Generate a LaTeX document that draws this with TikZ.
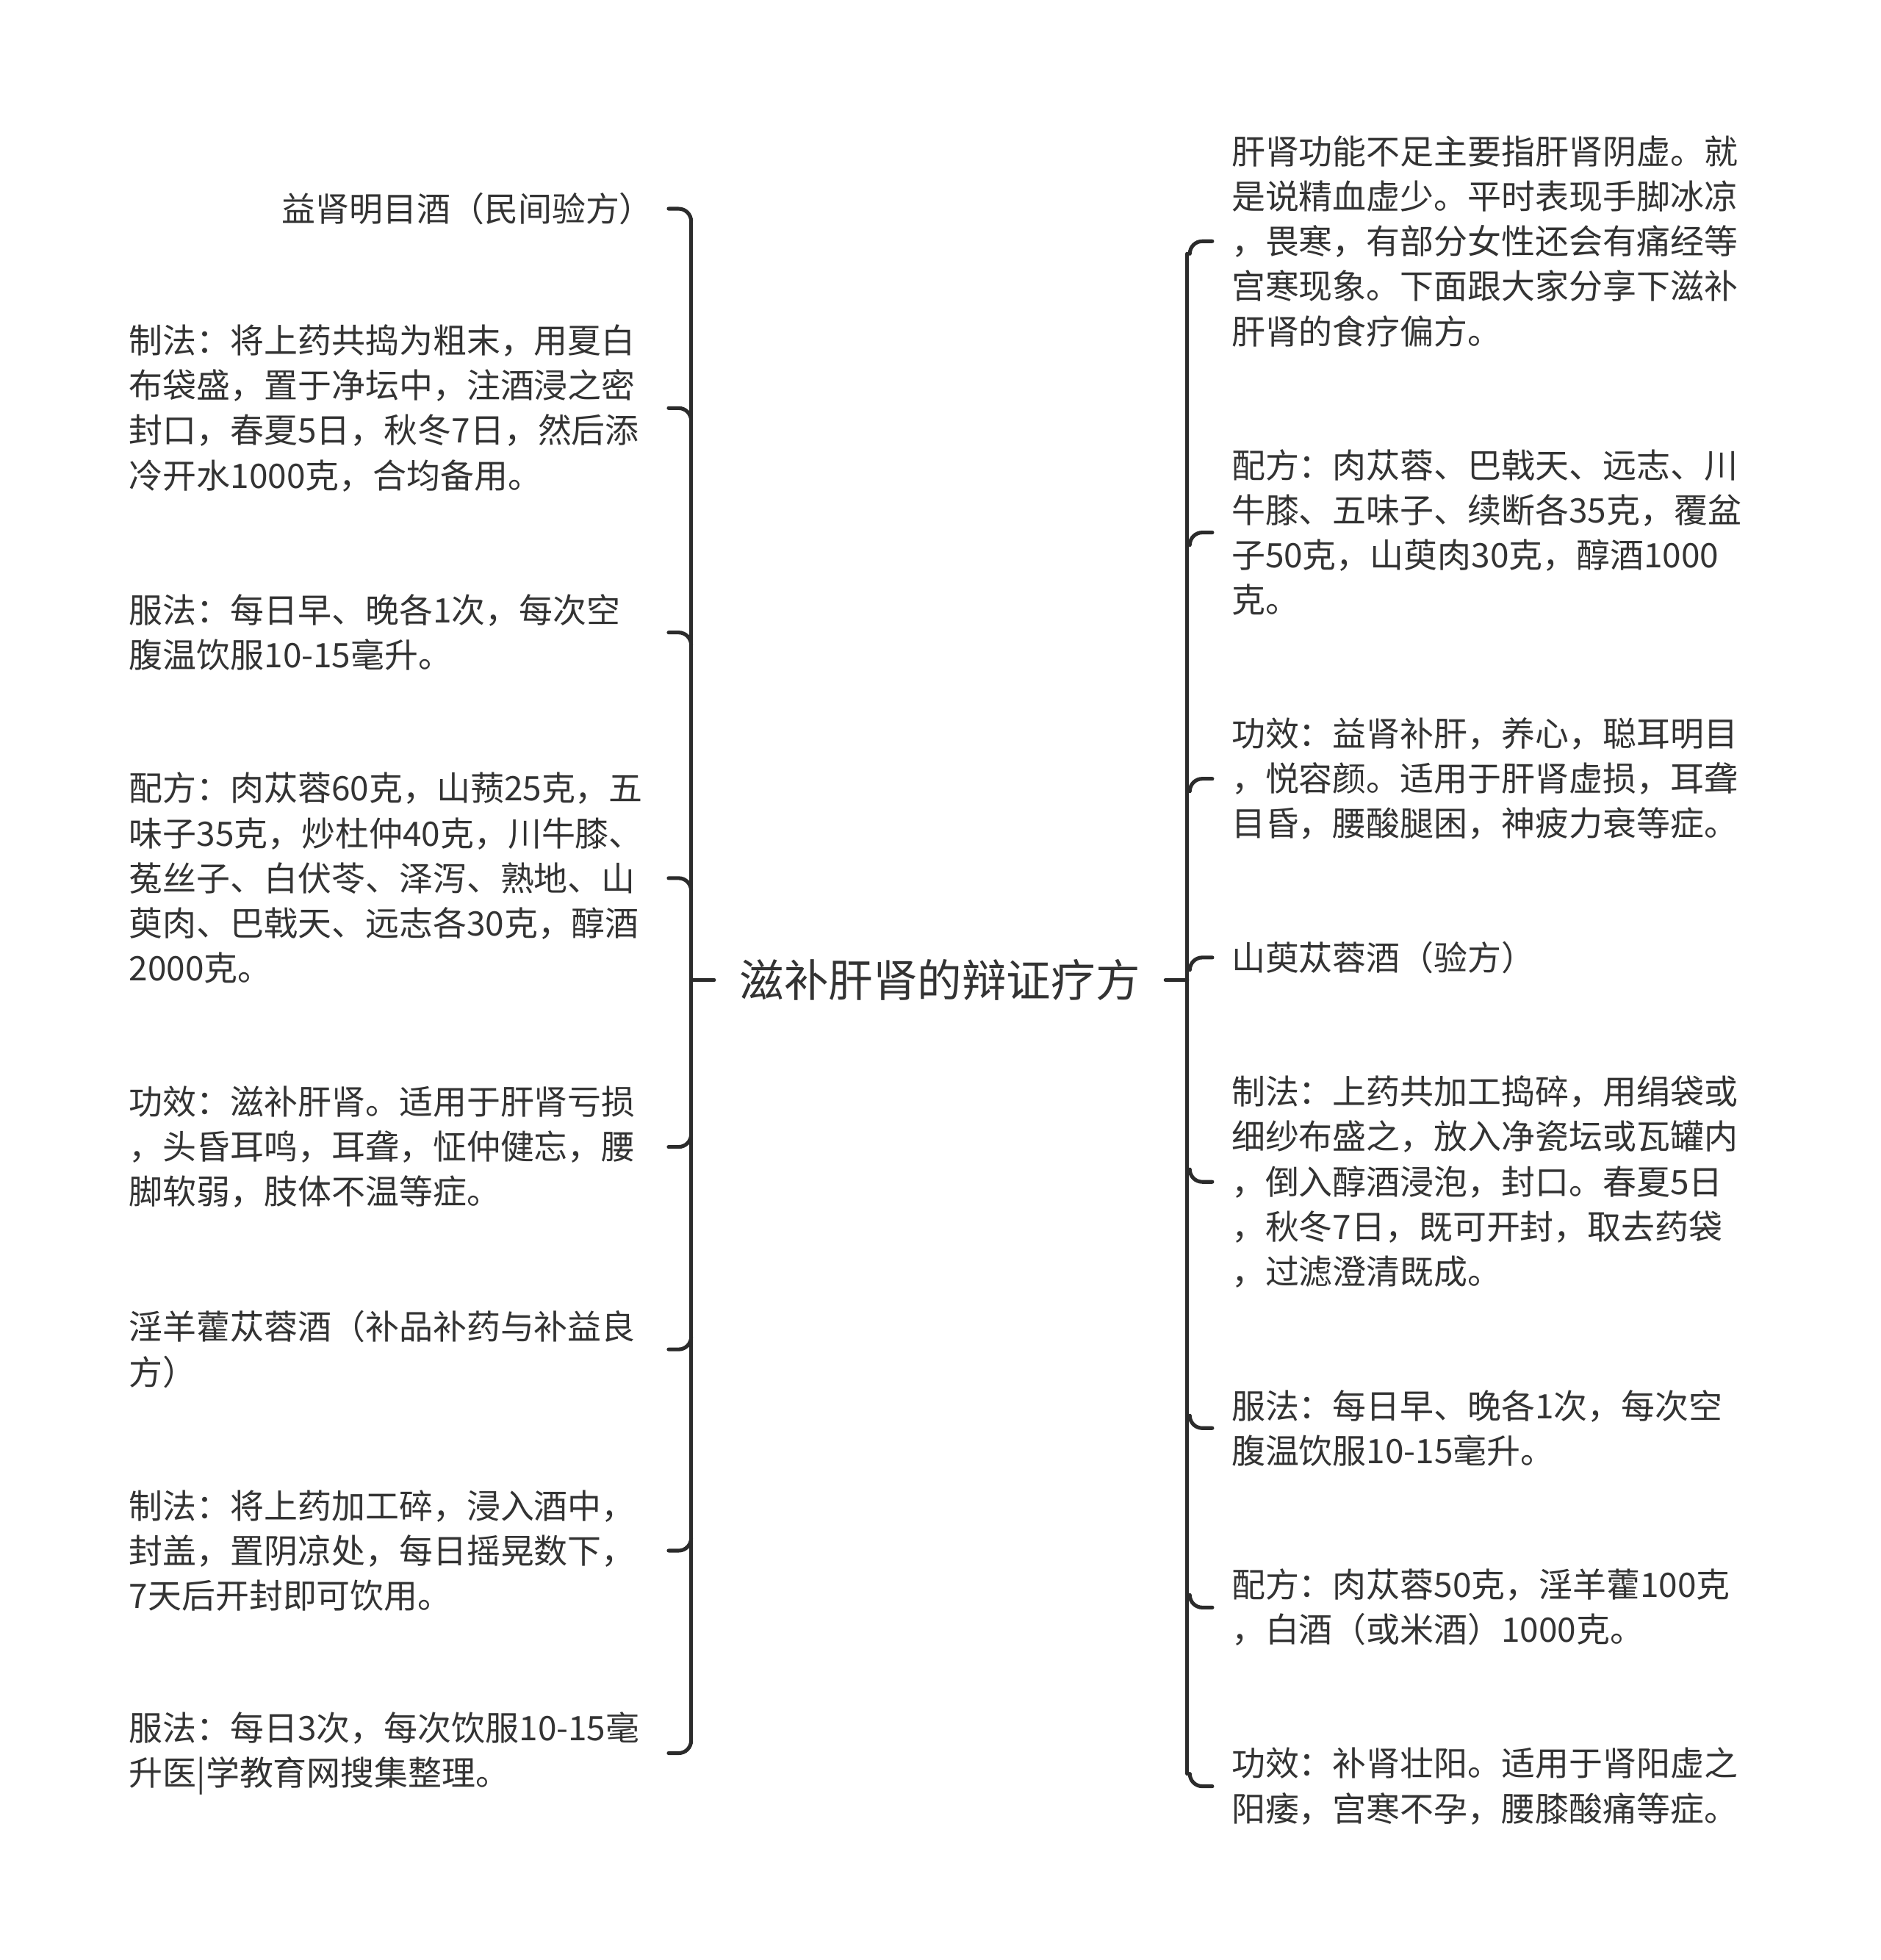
\documentclass[tikz,border=0pt]{standalone}
\usepackage{fontspec}
\setmainfont{Noto Sans CJK SC}
\usetikzlibrary{calc}
\definecolor{ink}{HTML}{333333}
\definecolor{linkc}{HTML}{2B2B2B}
\begin{document}
\begin{tikzpicture}[x=0.5pt,y=-0.5pt,
  leaf/.style={inner sep=0pt, align=left, font=\fontsize{13.5pt}{18pt}\selectfont, text=ink},
  root/.style={inner ysep=0pt, inner xsep=10pt, font=\fontsize{17.8pt}{22pt}\selectfont, text=ink},
  link/.style={draw=linkc, line width=1.5pt, line cap=round}]
\useasboundingbox (0,0) rectangle (1505,1568);
\fill[white] (0,0) rectangle (1505,1568);

% root
\node[root] (title) at (752,784) {滋补肝肾的辩证疗方};
\coordinate (LT) at (553,784);
\coordinate (RT) at (950,784);
\coordinate (LS) at (535,784);
\coordinate (RS) at (970,784);

% left children
\node[leaf, anchor=east] (L1) at (523,167) {益肾明目酒（民间验方）};
\node[leaf, anchor=west] (L2) at (103,326.5) {制法：将上药共捣为粗末，用夏白\\布袋盛，置于净坛中，注酒浸之密\\封口，春夏5日，秋冬7日，然后添\\冷开水1000克，合均备用。};
\node[leaf, anchor=west] (L3) at (103,506) {服法：每日早、晚各1次，每次空\\腹温饮服10-15毫升。};
\node[leaf, anchor=west] (L4) at (103,702.5) {配方：肉苁蓉60克，山蓣25克，五\\味子35克，炒杜仲40克，川牛膝、\\菟丝子、白伏苓、泽泻、熟地、山\\萸肉、巴戟天、远志各30克，醇酒\\2000克。};
\node[leaf, anchor=west] (L5) at (103,917.5) {功效：滋补肝肾。适用于肝肾亏损\\，头昏耳鸣，耳聋，怔仲健忘，腰\\脚软弱，肢体不温等症。};
\node[leaf, anchor=west] (L6) at (103,1079.5) {淫羊藿苁蓉酒（补品补药与补益良\\方）};
\node[leaf, anchor=west] (L7) at (103,1240.5) {制法：将上药加工碎，浸入酒中，\\封盖，置阴凉处，每日摇晃数下，\\7天后开封即可饮用。};
\node[leaf, anchor=west] (L8) at (103,1402.5) {服法：每日3次，每次饮服10-15毫\\升医|学教育网搜集整理。};

% right children
\node[leaf, anchor=west] (R1) at (985,193) {肝肾功能不足主要指肝肾阴虚。就\\是说精血虚少。平时表现手脚冰凉\\，畏寒，有部分女性还会有痛经等\\宫寒现象。下面跟大家分享下滋补\\肝肾的食疗偏方。};
\node[leaf, anchor=west] (R2) at (985,426) {配方：肉苁蓉、巴戟天、远志、川\\牛膝、五味子、续断各35克，覆盆\\子50克，山萸肉30克，醇酒1000\\克。};
\node[leaf, anchor=west] (R3) at (985,623) {功效：益肾补肝，养心，聪耳明目\\，悦容颜。适用于肝肾虚损，耳聋\\目昏，腰酸腿困，神疲力衰等症。};
\node[leaf, anchor=west] (R4) at (985,766) {山萸苁蓉酒（验方）};
\node[leaf, anchor=west] (R5) at (985,945.5) {制法：上药共加工捣碎，用绢袋或\\细纱布盛之，放入净瓷坛或瓦罐内\\，倒入醇酒浸泡，封口。春夏5日\\，秋冬7日，既可开封，取去药袋\\，过滤澄清既成。};
\node[leaf, anchor=west] (R6) at (985,1142.5) {服法：每日早、晚各1次，每次空\\腹温饮服10-15毫升。};
\node[leaf, anchor=west] (R7) at (985,1286) {配方：肉苁蓉50克，淫羊藿100克\\，白酒（或米酒）1000克。};
\node[leaf, anchor=west] (R8) at (985,1429) {功效：补肾壮阳。适用于肾阳虚之\\阳痿，宫寒不孕，腰膝酸痛等症。};

% root stubs
\draw[link] (title.west) -- (LT);
\draw[link] (title.east) -- (RT);

% trunks
\draw[link] ($(LT |- L1.east)+(0,10)$) -- ($(LT |- L8.east)+(0,-10)$);
\draw[link] ($(RT |- R1.west)+(0,10)$) -- ($(RT |- R8.west)+(0,-10)$);

% left hooks (above centre curve down, below centre curve up)
\foreach \n in {L1,L2,L3,L4}
  \draw[link] (LS |- \n.east) -- ++(8,0) .. controls +(5.5,0) and +(0,-5.5) .. ++(10,10);
\foreach \n in {L5,L6,L7,L8}
  \draw[link] (LS |- \n.east) -- ++(8,0) .. controls +(5.5,0) and +(0,5.5) .. ++(10,-10);

% right hooks
\foreach \n in {R1,R2,R3,R4}
  \draw[link] (RS |- \n.west) -- ++(-8,0) .. controls +(-5.5,0) and +(0,-5.5) .. ++(-10,10);
\foreach \n in {R5,R6,R7,R8}
  \draw[link] (RS |- \n.west) -- ++(-8,0) .. controls +(-5.5,0) and +(0,5.5) .. ++(-10,-10);
\end{tikzpicture}
\end{document}
